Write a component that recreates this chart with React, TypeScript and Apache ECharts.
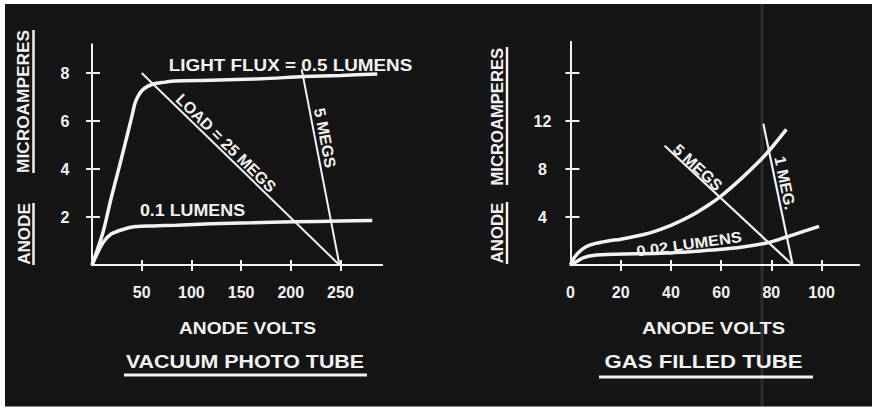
import React, { useEffect, useRef } from "react";
import * as echarts from "echarts";

// ---- Vacuum photo tube (left panel) ----
const vacuumXTicks = [50, 100, 150, 200, 250];
const vacuumYTicks = [2, 4, 6, 8];
const vacuumFlux05: number[][] = [
  [0, 0], [11, 1.35], [19, 2.74], [27.5, 4.1], [36, 5.5], [41, 6.35], [44, 6.83],
  [51, 7.3], [61, 7.53], [74, 7.62], [83, 7.67], [120, 7.7], [170, 7.76],
  [213, 7.85], [250, 7.9], [287, 7.96],
];
const vacuumFlux01: number[][] = [
  [0, 0], [4, 0.37], [11, 0.93], [19, 1.28], [31, 1.48], [44, 1.6], [61, 1.63],
  [85, 1.66], [120, 1.72], [160, 1.76], [203, 1.8], [250, 1.83], [282, 1.85],
];
const vacuumLoad25: number[][] = [[50, 8.0], [249, 0]];
const vacuumLoad5: number[][] = [[211, 8.15], [249, 0]];

// ---- Gas filled tube (right panel) ----
const gasXLabels = [0, 20, 40, 60, 80, 100];
const gasXTicks = [20, 40, 60, 80, 100];
const gasYTicks = [4, 8, 12, 16];
const gasYLabels = [4, 8, 12];
const gasUpper: number[][] = [
  [0, 0], [1, 0.45], [3, 1.0], [6, 1.5], [10, 1.8], [15, 2.0], [20, 2.15],
  [25, 2.35], [32, 2.7], [40, 3.3], [48, 4.1], [55, 5.0], [60, 5.75],
  [68, 7.2], [75, 8.6], [80, 9.75], [86, 11.3],
];
const gasLower002: number[][] = [
  [0, 0], [2.5, 0.3], [5, 0.6], [9, 0.8], [18, 0.9], [38, 1.0], [58, 1.28],
  [68.6, 1.5], [79, 1.88], [86, 2.33], [99, 3.22],
];
const gasLoad5: number[][] = [[37.5, 9.94], [88.5, 0]];
const gasLoad1: number[][] = [[76.8, 11.78], [88.5, 0]];

const FG = "#f2f2f2";
const BG = "#151515";
const FONT = "Liberation Sans";

function txt(text: string, x: number, y: number, size: number, opts: any = {}) {
  return {
    type: "text",
    x,
    y,
    rotation: opts.rotation || 0,
    scaleX: opts.scaleX || 1,
    z: 10,
    style: {
      text,
      fill: FG,
      fontSize: size,
      fontWeight: "bold",
      fontFamily: FONT,
      textAlign: "center",
      textVerticalAlign: "middle",
    },
  };
}

function ln(x1: number, y1: number, x2: number, y2: number, w = 2.5, color = FG) {
  return {
    type: "line",
    z: 10,
    shape: { x1, y1, x2, y2 },
    style: { stroke: color, lineWidth: w },
  };
}

const labelStyle = {
  color: FG,
  fontSize: 16,
  fontWeight: "bold",
  fontFamily: FONT,
};

export default function App() {
  const ref = useRef<HTMLDivElement>(null);
  useEffect(() => {
    if (!ref.current) return;
    const chart = echarts.init(ref.current, null, { renderer: "svg" });
    const axisLine = { show: true, onZero: false, lineStyle: { color: FG, width: 2 } };
    const tickStyle = { color: FG, width: 2 };
    const curve = { type: "line", symbol: "none", smooth: 0.3 };
    const option: any = {
      animation: false,
      backgroundColor: BG,
      grid: [
        { left: 92, top: 44.2, width: 290.2, height: 220.8 },
        { left: 570.5, top: 41.8, width: 288.7, height: 223.2 },
      ],
      xAxis: [
        {
          gridIndex: 0, type: "value", min: 0, max: 292, interval: 50, position: "bottom",
          axisLine, splitLine: { show: false },
          axisTick: { show: true, customValues: vacuumXTicks, length: 6, lineStyle: tickStyle },
          axisLabel: { ...labelStyle, customValues: vacuumXTicks, margin: 19 },
        },
        {
          gridIndex: 0, type: "value", min: 0, max: 292, interval: 50, position: "bottom",
          axisLine: { show: false }, splitLine: { show: false },
          axisTick: { show: true, inside: true, customValues: vacuumXTicks, length: 5, lineStyle: tickStyle },
          axisLabel: { show: false },
        },
        {
          gridIndex: 1, type: "value", min: 0, max: 115, interval: 20, position: "bottom",
          axisLine, splitLine: { show: false },
          axisTick: { show: true, customValues: gasXTicks, length: 6, lineStyle: tickStyle },
          axisLabel: { ...labelStyle, customValues: gasXLabels, margin: 19 },
        },
        {
          gridIndex: 1, type: "value", min: 0, max: 115, interval: 20, position: "bottom",
          axisLine: { show: false }, splitLine: { show: false },
          axisTick: { show: true, inside: true, customValues: gasXTicks, length: 5, lineStyle: tickStyle },
          axisLabel: { show: false },
        },
      ],
      yAxis: [
        {
          gridIndex: 0, type: "value", min: 0, max: 9.2, interval: 2, position: "left",
          axisLine, splitLine: { show: false },
          axisTick: { show: true, customValues: vacuumYTicks, length: 6, lineStyle: tickStyle },
          axisLabel: { ...labelStyle, customValues: vacuumYTicks, margin: 27, align: "center" },
        },
        {
          gridIndex: 0, type: "value", min: 0, max: 9.2, interval: 2, position: "left",
          axisLine: { show: false }, splitLine: { show: false },
          axisTick: { show: true, inside: true, customValues: vacuumYTicks, length: 8, lineStyle: tickStyle },
          axisLabel: { show: false },
        },
        {
          gridIndex: 1, type: "value", min: 0, max: 18.6, interval: 4, position: "left",
          axisLine, splitLine: { show: false },
          axisTick: { show: true, customValues: gasYTicks, length: 5, lineStyle: tickStyle },
          axisLabel: { ...labelStyle, customValues: gasYLabels, margin: 28, align: "center" },
        },
        {
          gridIndex: 1, type: "value", min: 0, max: 18.6, interval: 4, position: "left",
          axisLine: { show: false }, splitLine: { show: false },
          axisTick: { show: true, inside: true, customValues: gasYTicks, length: 9, lineStyle: tickStyle },
          axisLabel: { show: false },
        },
      ],
      series: [
        { ...curve, name: "0.5 lumens", xAxisIndex: 0, yAxisIndex: 0, data: vacuumFlux05, lineStyle: { color: FG, width: 3.5 } },
        { ...curve, name: "0.1 lumens", xAxisIndex: 0, yAxisIndex: 0, data: vacuumFlux01, lineStyle: { color: FG, width: 3.5 } },
        { name: "25 megs", type: "line", xAxisIndex: 0, yAxisIndex: 0, data: vacuumLoad25, symbol: "none", lineStyle: { color: FG, width: 2 } },
        { name: "5 megs", type: "line", xAxisIndex: 0, yAxisIndex: 0, data: vacuumLoad5, symbol: "none", lineStyle: { color: FG, width: 2 } },
        { ...curve, name: "gas upper", xAxisIndex: 2, yAxisIndex: 2, data: gasUpper, lineStyle: { color: FG, width: 3.5 } },
        { ...curve, name: "0.02 lumens", xAxisIndex: 2, yAxisIndex: 2, data: gasLower002, lineStyle: { color: FG, width: 3.5 } },
        { name: "gas 5 megs", type: "line", xAxisIndex: 2, yAxisIndex: 2, data: gasLoad5, symbol: "none", lineStyle: { color: FG, width: 2.2 } },
        { name: "gas 1 meg", type: "line", xAxisIndex: 2, yAxisIndex: 2, data: gasLoad1, symbol: "none", lineStyle: { color: FG, width: 2.2 } },
      ],
      graphic: [
        // photo border
        { type: "rect", z: 0, shape: { x: 0, y: 0, width: 872, height: 4 }, style: { fill: "#ffffff" } },
        { type: "rect", z: 0, shape: { x: 0, y: 0, width: 5, height: 409 }, style: { fill: "#ffffff" } },
        { type: "rect", z: 0, shape: { x: 0, y: 406.5, width: 872, height: 3 }, style: { fill: "#ffffff" } },
        { type: "line", z: 0, shape: { x1: 762, y1: 4, x2: 762, y2: 406 }, style: { stroke: "rgba(100,100,100,0.3)", lineWidth: 3 } },
        // left panel labels
        txt("LIGHT FLUX = 0.5 LUMENS", 290.5, 65, 17, { scaleX: 1.11 }),
        txt("0.1 LUMENS", 192.5, 210, 17, { scaleX: 1.05 }),
        txt("LOAD = 25 MEGS", 226, 143, 16, { rotation: -0.775 }),
        txt("5 MEGS", 325, 138, 16, { rotation: -1.379 }),
        txt("ANODE VOLTS", 247.5, 329, 16, { scaleX: 1.2 }),
        txt("VACUUM PHOTO TUBE", 245, 361.7, 18, { scaleX: 1.19 }),
        ln(124, 375, 367, 375, 3),
        txt("ANODE", 24.2, 234, 16, { rotation: Math.PI / 2, scaleX: 1.07 }),
        txt("MICROAMPERES", 24.2, 101.5, 16, { rotation: Math.PI / 2, scaleX: 1.08 }),
        ln(33.5, 203, 33.5, 265, 2.5),
        ln(33.5, 30, 33.5, 173, 2.5),
        // right panel labels
        txt("5 MEGS", 697.7, 167.5, 16, { rotation: -0.75 }),
        txt("1 MEG.", 785, 183, 16, { rotation: -1.367 }),
        txt("0.02 LUMENS", 689, 244, 15, { rotation: 0.14, scaleX: 1.1 }),
        txt("ANODE VOLTS", 713.5, 329, 16, { scaleX: 1.25 }),
        txt("GAS FILLED TUBE", 703.5, 362, 18, { scaleX: 1.23 }),
        ln(599, 377, 813, 377, 3),
        txt("ANODE", 497, 233, 16, { rotation: Math.PI / 2, scaleX: 1.05 }),
        txt("MICROAMPERES", 497, 116.7, 16, { rotation: Math.PI / 2, scaleX: 1.04 }),
        ln(507, 202, 507, 264, 2.5),
        ln(507, 47, 507, 185, 2.5),
      ],
    };
    chart.setOption(option);
    return () => chart.dispose();
  }, []);
  return (
    <div
      ref={ref}
      style={{ position: "absolute", left: 0, top: 0, width: 872, height: 409 }}
    />
  );
}
